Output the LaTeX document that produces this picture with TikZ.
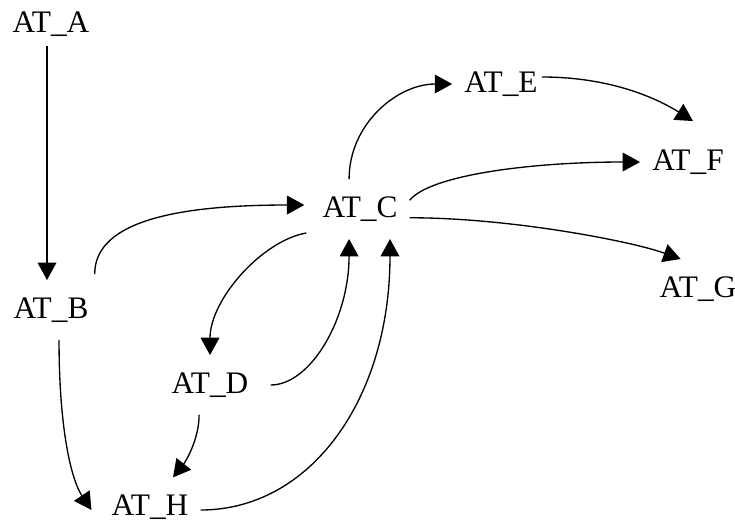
\documentclass[tikz,border=0pt]{standalone}
\usepackage{fontspec}
\setmainfont{Liberation Serif}
\usetikzlibrary{arrows.meta,calc}

\begin{document}
\begin{tikzpicture}[x=0.75pt,y=0.75pt,yscale=-1,xscale=1,
  atnode/.style={inner xsep=9pt,inner ysep=13pt,font=\fontsize{23.5}{27}\selectfont},
  edge/.style={line width=1pt,-{Triangle[length=13pt,width=14pt]}}]
\useasboundingbox (0,0) rectangle (735,522);

% Text Node
\draw (51,24) node [atnode] (ata) {AT\_A};
% Text Node
\draw (51,310) node [atnode] (atb) {AT\_B};
% Text Node
\draw (360,209) node [atnode] (atc) {AT\_C};
% Text Node
\draw (210,385) node [atnode] (atd) {AT\_D};
% Text Node
\draw (501,84) node [atnode] (ate) {AT\_E};
% Text Node
\draw (688,162) node [atnode] (atf) {AT\_F};
% Text Node
\draw (698,289) node [atnode] (atg) {AT\_G};
% Text Node
\draw (150,507) node [atnode,inner ysep=0pt] (ath) {AT\_H};

%Straight Lines A to B
\draw [edge] ($(ata.south)+(-4,-8)$) -- ($(atb.north)+(-4,0)$) ;
%Curve B to C
\draw [edge] ($(atb.north east)+(-6,-6)$) .. controls +(0,-55) and +(-120,0) .. ($(atc.west)+(-6,-4)$) ;
%Curve C to E
\draw [edge] (atc.110) .. controls +(0,-55) and +(-55,0) .. (ate.west) ;
%Curve E to F
\draw [edge] ($(ate.east)+(-8,-7)$) .. controls +(70,0) and +(-35,-22) .. ($(atf.north)+(5,-11)$) ;
%Curve C to F
\draw [edge] (atc.10) .. controls +(20,-25) and +(-110,0) .. (atf.west) ;
%Curve C to G
\draw [edge] (atc.-10) .. controls +(100,0) and +(-50,-18) .. (atg.120) ;
%Curve C to D
\draw [edge] ($(atc.south west)+(-4,-6)$) .. controls +(-45,8) and +(0,-55) .. (atd.north) ;
%Curve D to C
\draw [edge] ($(atd.east)+(10,0)$) .. controls +(40,0) and +(0,80) .. (atc.250) ;
%Curve H to C
\draw [edge] ($(ath.east)+(0,3)$) .. controls +(110,0) and +(0,160) .. (atc.-45) ;
%Curve B to H
\draw [edge] (atb.-75) .. controls +(0,90) and +(-20,-30) .. ($(ath.west)+(-8,3)$) ;
%Curve D to H
\draw [edge] (atd.-110) .. controls +(0,25) and +(12,-15) .. ($(ath.north)+(23,-17)$) ;

\end{tikzpicture}
\end{document}
